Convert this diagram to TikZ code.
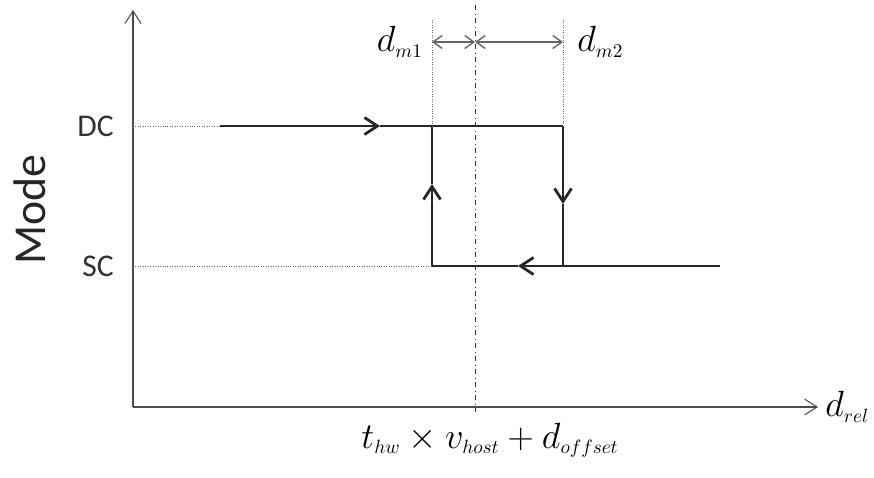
\documentclass[tikz,border=0pt]{standalone}
\usepackage{fontspec}
\setsansfont{Carlito}
\usetikzlibrary{positioning,arrows.meta,calc}
\newcommand{\lsub}[1]{_{\scriptscriptstyle #1}}
\tikzset{
  axisarr/.style={-{Straight Barb[length=2.5mm,width=3.2mm]},semithick,black!70},
  pathline/.style={line width=1.6pt,black!85},
  patharr/.style={-{Straight Barb[length=2.6mm,width=3.4mm]},line width=1.6pt,black!85},
  guide/.style={densely dotted,thin,black!60},
  dimarr/.style={{Straight Barb[length=1.8mm,width=2.6mm]}-{Straight Barb[length=1.8mm,width=2.6mm]},thick,black!60},
  lvl/.style={font=\sffamily\fontsize{18}{20}\selectfont,text=black!80,anchor=east},
  mathlbl/.style={inner sep=0pt,font=\fontsize{22}{24}\selectfont}
}

\begin{document}
\begin{tikzpicture}[x=0.02cm,y=-0.02cm]
\useasboundingbox (0,0) rectangle (874,477);
% axes
\coordinate (o) at (133,407);
\coordinate (ytop) at (133,10);
\coordinate (xend) at (818,407);
\draw[axisarr] (o) -- (ytop);
\draw[axisarr] (o) -- (xend);
\node[mathlbl,right=4pt of xend] (drel) {$d\lsub{rel}$};
\node[rotate=90,font=\sffamily\fontsize{26}{30}\selectfont,text=black!85] (mode) at (30,210) {Mode};
% levels
\node[lvl] (dc) at (120,126) {DC};
\node[lvl] (sc) at (120,266) {SC};
\coordinate (dcax) at (133,126);
\coordinate (scax) at (133,266);
\coordinate (dcin) at (220,126);
\coordinate (dcmid) at (380,126);
\coordinate (dcsw) at (432,126);
\coordinate (dcend) at (563,126);
\coordinate (scin) at (720,266);
\coordinate (scmid) at (518,266);
\coordinate (scend) at (563,266);
\coordinate (scsw) at (432,266);
\coordinate (upmid) at (432,184);
\coordinate (dnmid) at (563,204);
\draw[guide] (dcax) -- (dcin);
\draw[guide] (scax) -- (scsw);
% hysteresis loop
\draw[patharr] (dcin) -- (dcmid);
\draw[pathline] (dcmid) -- (dcend);
\draw[patharr] (dcend) -- (dnmid);
\draw[pathline] (dnmid) -- (scend);
\draw[patharr] (scin) -- (scmid);
\draw[pathline] (scmid) -- (scsw);
\draw[patharr] (scsw) -- (upmid);
\draw[pathline] (upmid) -- (dcsw);
% thresholds
\coordinate (m1top) at (432,20);
\coordinate (m2top) at (563,20);
\coordinate (ctop) at (475,5);
\coordinate (cbot) at (475,412);
\draw[guide] (m1top) -- (dcsw);
\draw[guide] (m2top) -- (dcend);
\draw[thin,black!80,dash dot] (ctop) -- (cbot);
\coordinate (m1) at (432,42);
\coordinate (c) at (475,42);
\coordinate (m2) at (563,42);
\draw[dimarr] (m1) -- (c);
\draw[dimarr] (c) -- (m2);
\node[mathlbl,left=5pt of m1] (dm1) {$d\lsub{m1}$};
\node[mathlbl,right=8pt of m2] (dm2) {$d\lsub{m2}$};
\node[mathlbl] (center) at (490,440) {$t\lsub{hw}\times v\lsub{host}+d\lsub{offset}$};
\end{tikzpicture}
\end{document}
